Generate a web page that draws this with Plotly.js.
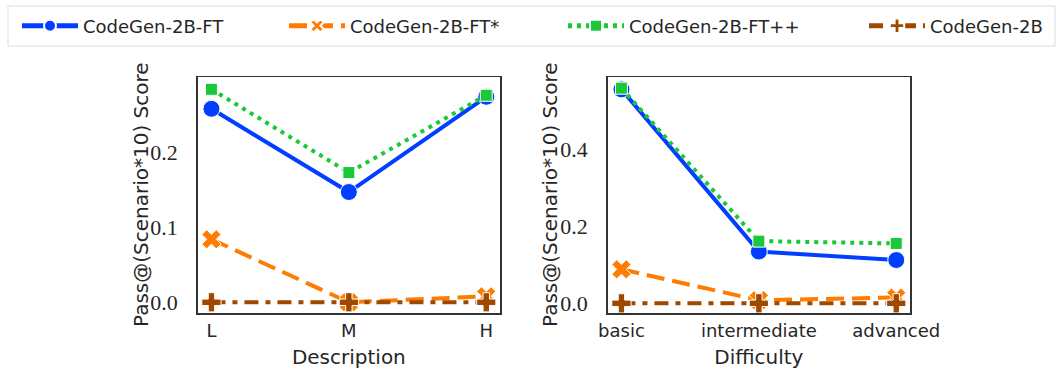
<!DOCTYPE html>
<html>
<head>
<meta charset="utf-8">
<script src="https://cdn.plot.ly/plotly-3.0.1.min.js"></script>
<style>html,body{margin:0;padding:0;background:#fff;}#chart{width:1058px;height:375px;}</style>
</head>
<body>
<div id="chart"></div>
<script>
// ---- data ----
const descCategories = ['L', 'M', 'H'];
const diffCategories = ['basic', 'intermediate', 'advanced'];
const seriesNames = ['CodeGen-2B-FT', 'CodeGen-2B-FT*', 'CodeGen-2B-FT++', 'CodeGen-2B'];
const ftDesc     = [0.258, 0.147, 0.274];
const ftStarDesc = [0.084, 0.000, 0.008];
const ftppDesc   = [0.284, 0.173, 0.276];
const baseDesc   = [0.000, 0.000, 0.000];
const ftDiff     = [0.554, 0.134, 0.112];
const ftStarDiff = [0.088, 0.008, 0.015];
const ftppDiff   = [0.557, 0.161, 0.155];
const baseDiff   = [0.000, 0.000, 0.000];
const descTicks = [0.0, 0.1, 0.2];
const diffTicks = [0.0, 0.2, 0.4];
const yTitle = 'Pass@(Scenario*10) Score';

// ---- styles ----
const styles = [
  {color: '#023eff', dash: 'solid', symbol: 'circle', size: 17},
  {color: '#ff7c00', dash: '18px,8px', symbol: 'x', size: 17},
  {color: '#1ac938', dash: '4px,5px', symbol: 'square', size: 12},
  {color: '#9f4800', dash: '14px,7px,5px,7px', symbol: 'cross', size: 16}
];
const legendIds = ['legend', 'legend2', 'legend3', 'legend4'];
const descSeries = [ftDesc, ftStarDesc, ftppDesc, baseDesc];
const diffSeries = [ftDiff, ftStarDiff, ftppDiff, baseDiff];

const traces = [];
function addTraces(xs, series, xa, ya, showLegend) {
  series.forEach((ys, i) => {
    const s = styles[i];
    traces.push({
      type: 'scatter', mode: 'lines+markers',
      x: xs, y: ys, xaxis: xa, yaxis: ya,
      name: seriesNames[i], legendgroup: seriesNames[i],
      legend: legendIds[i], showlegend: showLegend,
      line: {color: s.color, width: 4, dash: s.dash},
      marker: {symbol: s.symbol, size: s.size, color: s.color, line: {color: '#ffffff', width: 1}},
      cliponaxis: false
    });
  });
}
addTraces(descCategories, descSeries, 'x', 'y', true);
addTraces(diffCategories, diffSeries, 'x2', 'y2', false);

const W = 1058, H = 375;
const textColor = '#262626';
const sans = 'DejaVu Sans, sans-serif';
const serif = 'Liberation Serif, serif';

function xAxis(domain, title, anchor) {
  return {
    domain: domain, type: 'category', range: [-0.1, 2.1], anchor: anchor,
    showline: true, mirror: true, linecolor: '#333333', linewidth: 1.5,
    showgrid: false, zeroline: false, ticks: '', ticklabelstandoff: 1,
    tickfont: {family: sans, size: 18, color: textColor},
    title: {text: title, font: {family: sans, size: 20, color: textColor}, standoff: 10},
    fixedrange: true
  };
}
function yAxis(domain, range, ticks, anchor) {
  return {
    domain: domain, range: range, anchor: anchor,
    tickvals: ticks, tickformat: '.1f',
    showline: true, mirror: true, linecolor: '#333333', linewidth: 1.5,
    showgrid: false, zeroline: false, ticks: '', ticklabelstandoff: 14,
    tickfont: {family: serif, size: 22, color: textColor},
    fixedrange: true
  };
}

const yDom = [(H - 313) / H, (H - 77) / H];
const legendBase = {
  orientation: 'h', xanchor: 'left', yanchor: 'middle', y: (H - 26) / H,
  font: {family: sans, size: 18, color: textColor},
  bgcolor: 'rgba(0,0,0,0)', borderwidth: 0,
  itemwidth: 56, itemsizing: 'constant'
};
const legendX = [17, 284, 563, 864];

const layout = {
  width: W, height: H,
  margin: {l: 0, r: 0, t: 0, b: 0},
  paper_bgcolor: '#ffffff', plot_bgcolor: '#ffffff',
  showlegend: true,
  xaxis: xAxis([197.7 / W, 500 / W], 'Description', 'y'),
  yaxis: yAxis(yDom, [-0.0143, 0.3004], descTicks, 'x'),
  xaxis2: xAxis([607.7 / W, 910 / W], 'Difficulty', 'y2'),
  yaxis2: yAxis(yDom, [-0.0251, 0.586], diffTicks, 'x2'),
  annotations: [141, 550].map(px => ({
    text: yTitle, xref: 'paper', yref: 'paper', x: px / W, y: (H - 195) / H,
    xanchor: 'center', yanchor: 'middle', textangle: -90, showarrow: false,
    font: {family: sans, size: 20, color: textColor}
  })),
  shapes: [{
    type: 'rect', xref: 'paper', yref: 'paper',
    x0: 8 / W, x1: 1055 / W, y0: (H - 46) / H, y1: (H - 6) / H,
    line: {color: '#dddddd', width: 1}, fillcolor: 'rgba(0,0,0,0)', layer: 'below'
  }]
};
legendIds.forEach((id, i) => {
  layout[id] = Object.assign({}, legendBase, {x: legendX[i] / W});
});

Plotly.newPlot('chart', traces, layout, {staticPlot: true, displayModeBar: false});
</script>
</body>
</html>
